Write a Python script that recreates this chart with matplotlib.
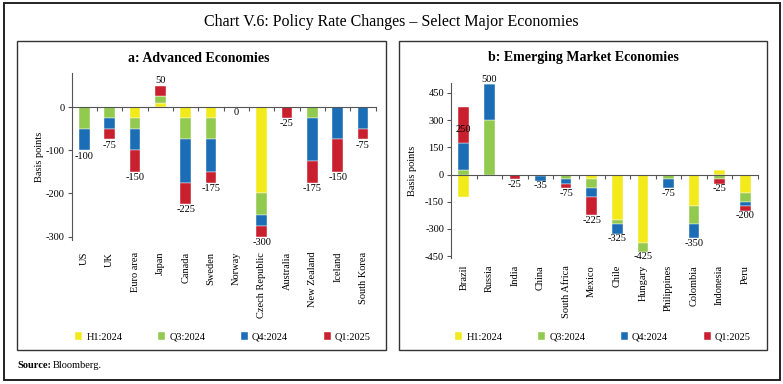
import numpy as np
import matplotlib
matplotlib.use("Agg")
import matplotlib.pyplot as plt
from matplotlib.patches import Rectangle

plt.rcParams['font.family'] = ['Liberation Serif', 'DejaVu Serif']
plt.rcParams['axes.unicode_minus'] = False

periods = ['H1:2024', 'Q3:2024', 'Q4:2024', 'Q1:2025']
colors = ['#f3ea1c', '#92c94f', '#1b6db5', '#c8202e']

# advanced economies (basis points per period)
ae_names = ['US', 'UK', 'Euro area', 'Japan', 'Canada', 'Sweden', 'Norway',
            'Czech Republic', 'Australia', 'New Zealand', 'Iceland', 'South Korea']
ae_h1 = [0, 0, -25, 10, -25, -25, 0, -200, 0, 0, 0, 0]
ae_q3 = [-50, -25, -25, 15, -50, -50, 0, -50, 0, -25, 0, 0]
ae_q4 = [-50, -25, -50, 0, -100, -75, 0, -25, 0, -100, -75, -50]
ae_q1 = [0, -25, -50, 25, -50, -25, 0, -25, -25, -50, -75, -25]

# emerging market economies
em_names = ['Brazil', 'Russia', 'India', 'China', 'South Africa', 'Mexico', 'Chile',
            'Hungary', 'Philippines', 'Colombia', 'Indonesia', 'Peru']
em_h1 = [-125, 0, 0, 0, 0, -25, -250, -375, 0, -175, 25, -100]
em_q3 = [25, 300, 0, -10, -25, -50, -25, -50, -25, -100, -25, -50]
em_q4 = [150, 200, 0, -25, -25, -50, -50, 0, -50, -75, 0, -25]
em_q1 = [200, 0, -25, 0, -25, -100, 0, 0, 0, 0, -25, -25]

W, H = 783, 384
fig = plt.figure(figsize=(W / 100, H / 100), dpi=100)


def fbox(x0, y0, x1, y1, lw, col):
    # rectangle in pixel coords (top-left origin)
    fig.patches.append(Rectangle((x0 / W, 1 - y1 / H), (x1 - x0) / W, (y1 - y0) / H,
                                 transform=fig.transFigure, fill=False, lw=lw, ec=col))


fbox(4, 3, 780, 380, 1.4, '#222222')
fbox(17, 41, 386, 350, 1.0, '#333333')
fbox(399, 41, 767, 350, 1.0, '#333333')

fig.text(0.5, 1 - 22 / H, 'Chart V.6: Policy Rate Changes \u2013 Select Major Economies',
         ha='center', va='center', fontsize=11.5)
fig.text(17 / W, 1 - 365 / H, 'Source:', ha='left', va='center', fontsize=7.5, fontweight='bold')
fig.text(53 / W, 1 - 365 / H, 'Bloomberg.', ha='left', va='center', fontsize=7.5)


def panel(rect, names, series, ylim, yticks, title, title_x, ylab_x, label_pad, leg_x):
    ax = fig.add_axes(rect)
    x = np.arange(len(names))
    data = np.array(series, dtype=float)
    pos = np.zeros(len(names))
    neg = np.zeros(len(names))
    for i, vals in enumerate(data):
        b = np.where(vals >= 0, pos, neg)
        ax.bar(x, vals, 0.42, bottom=b, color=colors[i], label=periods[i],
               edgecolor='white', linewidth=0.3)
        pos = pos + np.where(vals > 0, vals, 0)
        neg = neg + np.where(vals < 0, vals, 0)
    total = data.sum(axis=0)
    for xi, t, p, n in zip(x, total, pos, neg):
        if t > 0 and n < 0:
            ax.text(xi, t, f'{t:.0f}', ha='center', va='center', fontsize=7.5)
        elif t > 0:
            ax.text(xi, p + 2, f'{t:.0f}', ha='center', va='bottom', fontsize=7.5)
        else:
            ax.text(xi, n - 3, f'{t:.0f}', ha='center', va='top', fontsize=7.5)

    ax.set_xlim(-0.5, len(names) - 0.5)
    ax.set_ylim(*ylim)
    ax.set_yticks(yticks)
    ax.spines['top'].set_visible(False)
    ax.spines['right'].set_visible(False)
    ax.spines['bottom'].set_position(('data', 0))
    ax.spines['left'].set_color('#555555')
    ax.spines['bottom'].set_color('#555555')
    ax.set_xticks(np.arange(0.5, len(names), 1.0))
    ax.set_xticklabels([])
    ax.tick_params(axis='x', length=3, color='#555555')
    ax.tick_params(axis='y', length=3, labelsize=7.5, pad=2, color='#555555')
    for xi, nm in zip(x, names):
        ax.text(xi, -label_pad, nm, transform=ax.get_xaxis_transform(), rotation=90,
                ha='center', va='top', fontsize=7.5)
    ax.set_ylabel('Basis points', fontsize=7.5)
    ax.yaxis.set_label_coords(ylab_x, 0.5)
    fig.text(title_x, 1 - 58 / H, title, ha='center', va='center', fontsize=10, fontweight='bold')
    ax.legend(loc='center', bbox_to_anchor=(leg_x, 1 - 337 / H), bbox_transform=fig.transFigure,
              ncol=4, frameon=False, fontsize=7.5, handlelength=0.7, handleheight=0.7,
              columnspacing=3.4, handletextpad=0.4)
    return ax


panel([71.7 / W, 1 - 240 / H, 304 / W, 167 / H], ae_names,
      [ae_h1, ae_q3, ae_q4, ae_q1], (-308, 79), [-300, -200, -100, 0],
      'a: Advanced Economies', 199 / W, -0.09, 0.07, 223 / W)
panel([451 / W, 1 - 258 / H, 307 / W, 175 / H], em_names,
      [em_h1, em_q3, em_q4, em_q1], (-460, 505), [-450, -300, -150, 0, 150, 300, 450],
      'b: Emerging Market Economies', 583 / W, -0.11, 0.04, 603 / W)

fig.savefig('out.png', dpi=100)
